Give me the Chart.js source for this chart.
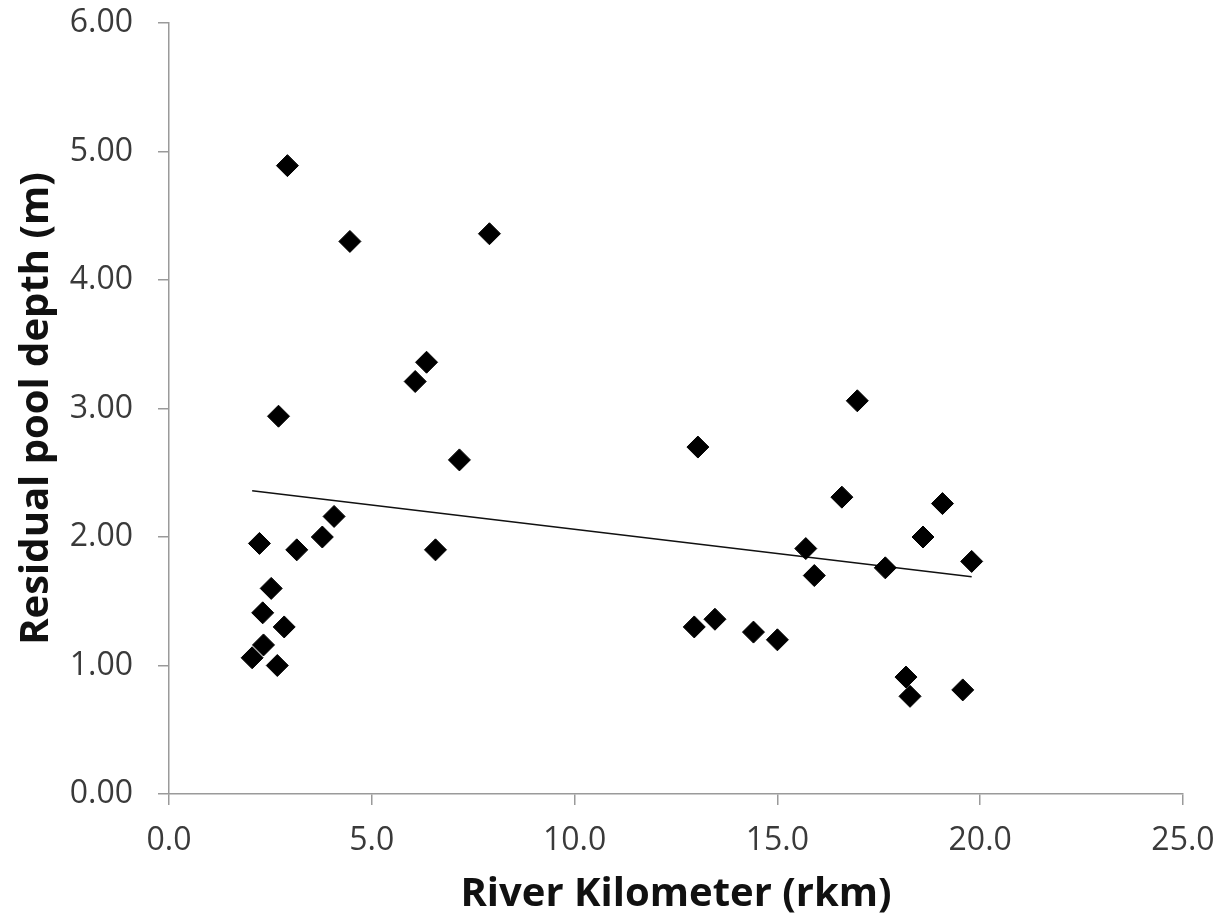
<!DOCTYPE html>
<html>
<head>
<meta charset="utf-8">
<script src="https://cdn.jsdelivr.net/npm/chart.js@4/dist/chart.umd.min.js"></script>
<style>
  html, body { margin: 0; padding: 0; background: #fff; }
  #wrap { width: 1221px; height: 923px; position: relative; }
</style>
</head>
<body>
<div id="wrap"><canvas id="chart"></canvas></div>
<script>
// river kilometer vs residual pool depth
const rkm = [
  2.92, 4.46, 7.90, 6.35, 6.07, 2.70, 7.16, 4.07, 3.78, 2.23, 3.15, 6.57,
  2.52, 2.31, 2.84, 2.33, 2.05, 2.67,
  16.97, 13.04, 16.59, 19.07, 18.59, 15.70, 15.91, 17.66, 19.79,
  12.95, 13.46, 14.41, 15.00, 18.17, 18.27, 19.57
];
const poolDepth = [
  4.89, 4.30, 4.36, 3.36, 3.21, 2.94, 2.60, 2.16, 2.00, 1.95, 1.90, 1.90,
  1.60, 1.41, 1.30, 1.16, 1.06, 1.00,
  3.06, 2.70, 2.31, 2.26, 2.00, 1.91, 1.70, 1.76, 1.81,
  1.30, 1.36, 1.26, 1.20, 0.91, 0.76, 0.81
];

// linear trendline end points
const trendX = [2.05, 19.79];
const trendY = [2.36, 1.69];

const xTicks = [0, 5, 10, 15, 20, 25];
const yTicks = [0, 1, 2, 3, 4, 5, 6];

const axisGray = "#9a9a9a";
const tickText = "#3a3a3a";

const points = rkm.map((x, i) => ({ x, y: poolDepth[i] }));
const trend = trendX.map((x, i) => ({ x, y: trendY[i] }));

new Chart(document.getElementById("chart"), {
  type: "scatter",
  data: {
    datasets: [
      {
        label: "Pools",
        data: points,
        pointStyle: "rectRot",
        pointRadius: 11,
        pointBorderWidth: 1,
        backgroundColor: "#000",
        borderColor: "#000"
      },
      {
        label: "Trend",
        type: "line",
        data: trend,
        borderColor: "#111",
        borderWidth: 1.5,
        pointRadius: 0,
        fill: false
      }
    ]
  },
  options: {
    responsive: true,
    maintainAspectRatio: false,
    animation: false,
    events: [],
    layout: { padding: { top: 23, right: 38, left: 0, bottom: 0 } },
    plugins: {
      legend: { display: false },
      tooltip: { enabled: false }
    },
    scales: {
      x: {
        type: "linear",
        min: 0,
        max: 25,
        afterFit: (scale) => {
          scale.height = 129;
          scale.paddingLeft = 0;
          scale.paddingRight = 0;
        },
        afterBuildTicks: (scale) => { scale.ticks = xTicks.map((v) => ({ value: v })); },
        border: { color: axisGray, width: 1.5 },
        grid: { drawOnChartArea: false, drawTicks: true, tickLength: 11, color: axisGray, lineWidth: 1.5 },
        ticks: {
          padding: 17,
          color: tickText,
          font: { family: "'Open Sans'", size: 32 },
          callback: (v) => Number(v).toFixed(1)
        },
        title: {
          display: true,
          text: "River Kilometer (rkm)",
          color: "#111",
          font: { family: "'Open Sans'", size: 40, weight: "bold" },
          padding: { top: 0, bottom: 4 }
        }
      },
      y: {
        type: "linear",
        min: 0,
        max: 6,
        afterFit: (scale) => {
          scale.width = 169;
          scale.paddingTop = 0;
          scale.paddingBottom = 0;
        },
        afterBuildTicks: (scale) => { scale.ticks = yTicks.map((v) => ({ value: v })); },
        border: { color: axisGray, width: 1.5 },
        grid: { drawOnChartArea: false, drawTicks: true, tickLength: 11, color: axisGray, lineWidth: 1.5 },
        ticks: {
          padding: 25,
          color: tickText,
          font: { family: "'Open Sans'", size: 32 },
          callback: (v) => Number(v).toFixed(2)
        },
        title: {
          display: true,
          text: "Residual pool depth (m)",
          color: "#111",
          font: { family: "'Open Sans'", size: 40, weight: "bold" },
          padding: { top: 13, bottom: 0 }
        }
      }
    }
  }
});
</script>
</body>
</html>
